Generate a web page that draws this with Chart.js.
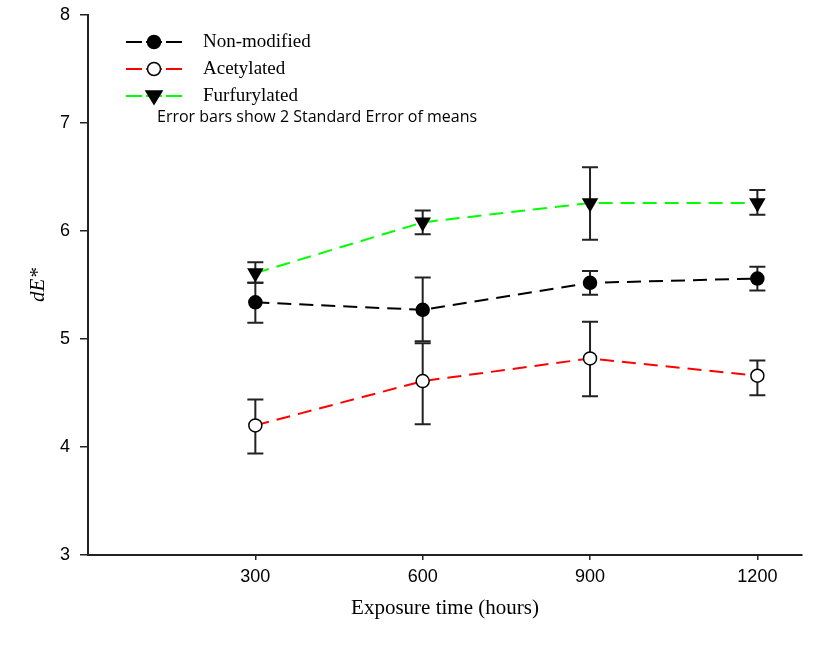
<!DOCTYPE html>
<html lang="en">
<head>
    <title>dE* vs exposure time</title>
    <script src="https://cdn.jsdelivr.net/npm/chart.js@4.4.1/dist/chart.umd.min.js"></script>
    <style>
        html, body { margin: 0; padding: 0; background: #fff; }
        #wrap { width: 831px; height: 645px; }
    </style>
</head>
<body>
    <div id="wrap"><canvas id="myChart" width="831" height="645"></canvas></div>

    <script>
        // data
        var hours = [300, 600, 900, 1200];
        var xTicks = [300, 600, 900, 1200];
        var yTicks = [3, 4, 5, 6, 7, 8];

        var nonModified = [5.34, 5.27, 5.52, 5.56];
        var nonModLow   = [5.15, 4.98, 5.41, 5.45];
        var nonModHigh  = [5.52, 5.57, 5.63, 5.67];

        var acetylated = [4.20, 4.61, 4.82, 4.66];
        var acetLow    = [3.94, 4.21, 4.47, 4.48];
        var acetHigh   = [4.44, 4.96, 5.16, 4.80];

        var furfurylated = [5.61, 6.08, 6.26, 6.26];
        var furfLow      = [5.52, 5.97, 5.92, 6.15];
        var furfHigh     = [5.71, 6.19, 6.59, 6.38];

        function pts(vals) {
            return hours.map(function (h, i) { return { x: h, y: vals[i] }; });
        }

        var series = [
            { label: 'Non-modified', vals: nonModified, low: nonModLow, high: nonModHigh, line: '#000000', fill: '#000000', style: 'circle', rot: 0 },
            { label: 'Acetylated', vals: acetylated, low: acetLow, high: acetHigh, line: '#ff0000', fill: '#ffffff', style: 'circle', rot: 0 },
            { label: 'Furfurylated', vals: furfurylated, low: furfLow, high: furfHigh, line: '#00ff00', fill: '#000000', style: 'triangle', rot: 180 }
        ];

        // error bars, drawn under the lines and markers
        var errorBars = {
            id: 'errorBars',
            beforeDatasetsDraw: function (chart) {
                var c = chart.ctx, xs = chart.scales.x, ys = chart.scales.y;
                c.save();
                c.strokeStyle = '#222';
                c.lineWidth = 2;
                series.forEach(function (s) {
                    hours.forEach(function (h, i) {
                        var px = xs.getPixelForValue(h);
                        var top = ys.getPixelForValue(s.high[i]);
                        var bot = ys.getPixelForValue(s.low[i]);
                        c.beginPath();
                        c.moveTo(px, top); c.lineTo(px, bot);
                        c.moveTo(px - 8, top); c.lineTo(px + 8, top);
                        c.moveTo(px - 8, bot); c.lineTo(px + 8, bot);
                        c.stroke();
                    });
                });
                c.restore();
            }
        };

        // legend inside the plot, top left
        var innerLegend = {
            id: 'innerLegend',
            afterDraw: function (chart) {
                var c = chart.ctx;
                var x0 = chart.chartArea.left + 38;
                var y0 = chart.chartArea.top + 27;
                c.save();
                series.forEach(function (s, i) {
                    var y = y0 + i * 27;
                    var mx = x0 + 28;
                    c.strokeStyle = s.line;
                    c.lineWidth = 2;
                    c.beginPath();
                    c.moveTo(x0, y); c.lineTo(x0 + 16, y);
                    c.moveTo(x0 + 20, y); c.lineTo(x0 + 36, y);
                    c.moveTo(x0 + 40, y); c.lineTo(x0 + 56, y);
                    c.stroke();
                    c.fillStyle = s.fill;
                    c.strokeStyle = '#000';
                    c.beginPath();
                    if (s.style === 'circle') {
                        c.arc(mx, y, 6.5, 0, Math.PI * 2);
                    } else {
                        c.moveTo(mx - 8, y - 5); c.lineTo(mx + 8, y - 5); c.lineTo(mx, y + 8); c.closePath();
                    }
                    c.fill();
                    c.lineWidth = 1.5;
                    c.stroke();
                    c.fillStyle = '#000';
                    c.font = '19px "Liberation Serif", "Times New Roman", serif';
                    c.textBaseline = 'middle';
                    c.fillText(s.label, x0 + 77, y);
                });
                c.font = '16px "Open Sans", sans-serif';
                c.fillText('Error bars show 2 Standard Error of means', x0 + 31, y0 + 75);
                c.restore();
            }
        };

        var ctx = document.getElementById('myChart').getContext('2d');
        var myChart = new Chart(ctx, {
            type: 'line',
            data: {
                datasets: series.map(function (s) {
                    return {
                        label: s.label,
                        data: pts(s.vals),
                        borderColor: s.line,
                        borderWidth: 2,
                        borderDash: [14, 8],
                        pointStyle: s.style,
                        rotation: s.rot,
                        pointRadius: s.style === 'triangle' ? 8 : 6.5,
                        pointBackgroundColor: s.fill,
                        pointBorderColor: '#000',
                        pointBorderWidth: 1.5,
                        tension: 0,
                        fill: false
                    };
                })
            },
            options: {
                responsive: false,
                animation: false,
                layout: { padding: { top: 15, right: 29, left: 22, bottom: 0 } },
                plugins: {
                    legend: { display: false },
                    tooltip: { enabled: false }
                },
                scales: {
                    x: {
                        type: 'linear',
                        min: 0,
                        max: 1280,
                        afterBuildTicks: function (scale) {
                            scale.ticks = xTicks.map(function (v) { return { value: v }; });
                        },
                        afterFit: function (scale) {
                            scale.height = 90;
                            scale.paddingLeft = 0;
                            scale.paddingRight = 0;
                        },
                        grid: { display: true, drawOnChartArea: false, drawTicks: true, tickLength: 5, color: '#222', lineWidth: 1.5 },
                        border: { display: true, color: '#222', width: 2 },
                        ticks: {
                            color: '#000', padding: 6,
                            font: { family: '"Liberation Sans", Arial, sans-serif', size: 18 },
                            callback: function (v) { return String(v); }
                        },
                        title: {
                            display: true,
                            text: 'Exposure time (hours)',
                            color: '#000',
                            padding: { top: 0, bottom: 24 },
                            font: { family: '"Liberation Serif", "Times New Roman", serif', size: 21 }
                        }
                    },
                    y: {
                        min: 3,
                        max: 8,
                        afterBuildTicks: function (scale) {
                            scale.ticks = yTicks.map(function (v) { return { value: v }; });
                        },
                        afterFit: function (scale) {
                            scale.width = 66;
                            scale.paddingTop = 0;
                            scale.paddingBottom = 0;
                        },
                        grid: { display: true, drawOnChartArea: false, drawTicks: true, tickLength: 8, color: '#222', lineWidth: 1.5 },
                        border: { display: true, color: '#222', width: 2 },
                        ticks: { color: '#000', padding: 10, font: { family: '"Liberation Sans", Arial, sans-serif', size: 18 } },
                        title: {
                            display: true,
                            text: 'dE*',
                            color: '#000',
                            padding: { bottom: 0 },
                            font: { family: '"Liberation Serif", "Times New Roman", serif', size: 21, style: 'italic' }
                        }
                    }
                }
            },
            plugins: [errorBars, innerLegend]
        });
    </script>
</body>
</html>
